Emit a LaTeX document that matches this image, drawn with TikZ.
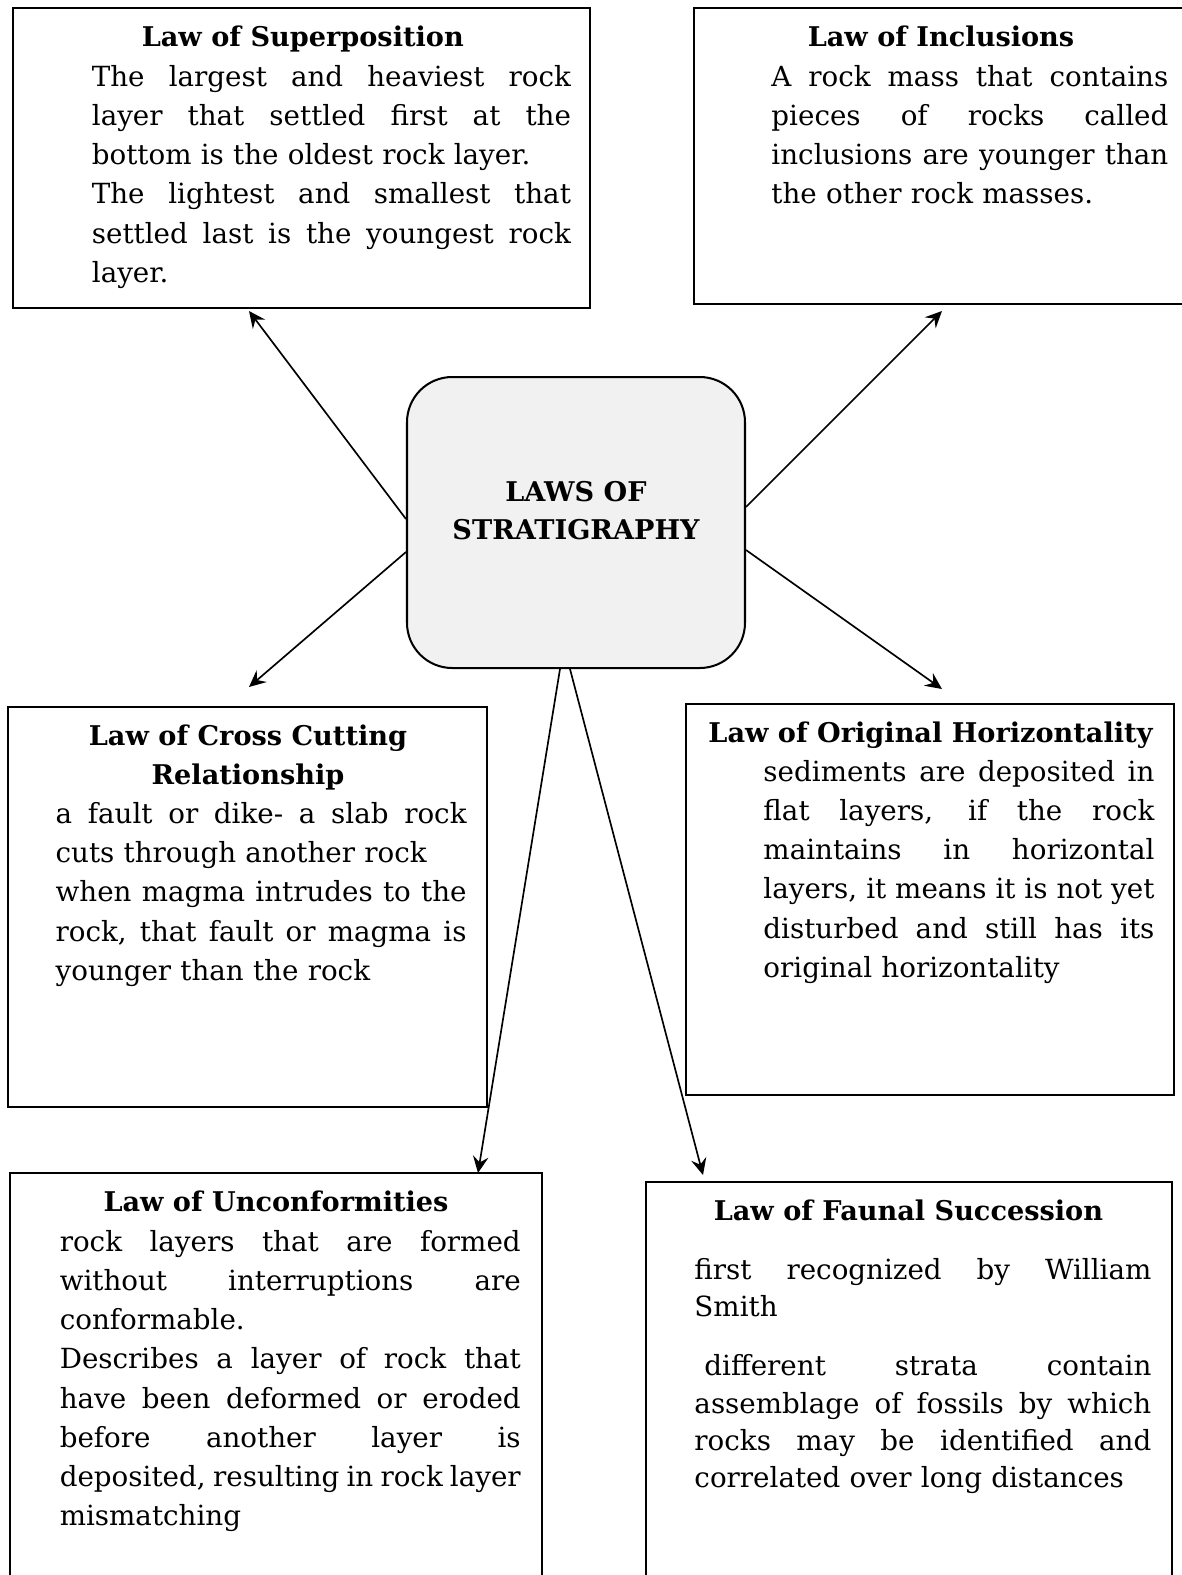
\documentclass[tikz,border=0pt]{standalone}
\usepackage{fontspec}
\setmainfont{DejaVu Serif}
\usetikzlibrary{arrows.meta,calc,fit}
\definecolor{hubfill}{HTML}{F1F1F1}
\newlength\lawwidth
% a fully justified line, as wide as the current text block
% (the font's own stretchable word spaces are restored first)
\newcommand\jl[1]{{\spaceskip=0pt\xspaceskip=0pt\makebox[\lawwidth][s]{#1}}}
\begin{document}
\begin{tikzpicture}[x=0.42pt,y=-0.42pt,
  lawbox/.style={draw,line width=0.85pt,inner sep=0pt,rectangle},
  hub/.style={draw,line width=0.85pt,inner sep=0pt,rounded corners=19pt,fill=hubfill},
  lawtitle/.style={anchor=base,inner sep=0pt,align=center,
    font=\fontsize{11.4}{16.45}\selectfont\bfseries},
  lawtext/.style={anchor=base west,inner sep=0pt,align=left,text width=#1,
    execute at begin node={\setlength\lawwidth{#1}},
    font=\fontsize{11.65}{16.45}\selectfont},
  conn/.style={line width=0.7pt,-{Stealth[length=7pt,width=6.5pt,inset=2.5pt]}}]
\useasboundingbox (0,0) rectangle (1182,1575);
\clip (0,0) rectangle (1182,1575);

% central topic
\node[hub,fit={(407,377) (745,668)}] (ctr) {};
\node[lawtitle,font=\fontsize{11.4}{15.6}\selectfont\bfseries] (ctrT) at (576,539) {LAWS OF\\STRATIGRAPHY};

% frames of the six laws
\node[lawbox,fit={(13,8) (590,308)}] (sup) {};
\node[lawbox,fit={(694,8) (1200,304)}] (inc) {};
\node[lawbox,fit={(8,707) (487,1107)}] (cross) {};
\node[lawbox,fit={(686,704) (1174,1095)}] (orig) {};
\node[lawbox,fit={(10,1173) (542,1600)}] (unc) {};
\node[lawbox,fit={(646,1182) (1172,1600)}] (faun) {};

% Law of Superposition
\node[lawtitle] (supT) at (302.8,46.5) {Law of Superposition};
\node[lawtext=201.2pt] (supB) at (91.4,86.4) {%
\jl{The largest and heaviest rock}\\
\jl{layer that settled first at the}\\
bottom is the oldest rock layer.\\
\jl{The lightest and smallest that}\\
\jl{settled last is the youngest rock}\\
layer.};

% Law of Inclusions
\node[lawtitle] (incT) at (941,46.5) {Law of Inclusions};
\node[lawtext=166.7pt] (incB) at (771,86.4) {%
\jl{A rock mass that contains}\\
\jl{pieces of rocks called}\\
\jl{inclusions are younger than}\\
the other rock masses.};

% Law of Cross Cutting Relationship
\node[lawtitle] (crossT) at (248,784.4) {Law of Cross Cutting\\Relationship};
\node[lawtext=172.6pt] (crossB) at (55.2,823.5) {%
\jl{a fault or dike- a slab rock}\\
cuts through another rock\\
\jl{when magma intrudes to the}\\
\jl{rock, that fault or magma is}\\
younger than the rock};

% Law of Original Horizontality
\node[lawtitle] (origT) at (930.5,742.2) {Law of Original Horizontality};
\node[lawtext=164.2pt] (origB) at (763,781.4) {%
\jl{sediments are deposited in}\\
\jl{flat layers, if the rock}\\
\jl{maintains in horizontal}\\
\jl{layers, it means it is not yet}\\
\jl{disturbed and still has its}\\
original horizontality};

% Law of Unconformities
\node[lawtitle] (uncT) at (276,1211.2) {Law of Unconformities};
\node[lawtext=193.6pt] (uncB) at (59.3,1251.4) {%
\jl{rock layers that are formed}\\
\jl{without interruptions are}\\
conformable.\\
\jl{Describes a layer of rock that}\\
\jl{have been deformed or eroded}\\
\jl{before another layer is}\\
\jl{deposited, resulting in rock layer}\\
mismatching};

% Law of Faunal Succession
\node[lawtitle] (faunT) at (908.4,1220.3) {Law of Faunal Succession};
\node[lawtext=191.9pt,font=\fontsize{11.65}{15.6}\selectfont] (faunB) at (694,1279.5) {%
\jl{first recognized by William}\\
Smith\\[9.3pt]
\jl{\hspace*{4.2pt}different strata contain}\\
\jl{assemblage of fossils by which}\\
\jl{rocks may be identified and}\\
correlated over long distances};

% arrow ends
\coordinate (tipSup) at (249,311);
\coordinate (tipInc) at (942,311);
\coordinate (tipCross) at (249,687);
\coordinate (tipOrig) at (942,689);
\coordinate (tipUnc) at (478,1173);
\coordinate (tipFaun) at (703,1175);

% connectors from the central topic
\draw[conn] ($(ctr.west)+(0,-3.5)$) -- (tipSup);
\draw[conn] ($(ctr.east)+(0,-15.5)$) -- (tipInc);
\draw[conn] ($(ctr.west)+(0,29.5)$) -- (tipCross);
\draw[conn] ($(ctr.east)+(0,27.5)$) -- (tipOrig);
\draw[conn] ($(ctr.south)+(-16,0)$) -- (tipUnc);
\draw[conn] ($(ctr.south)+(-6,0)$) -- (tipFaun);
\end{tikzpicture}
\end{document}
